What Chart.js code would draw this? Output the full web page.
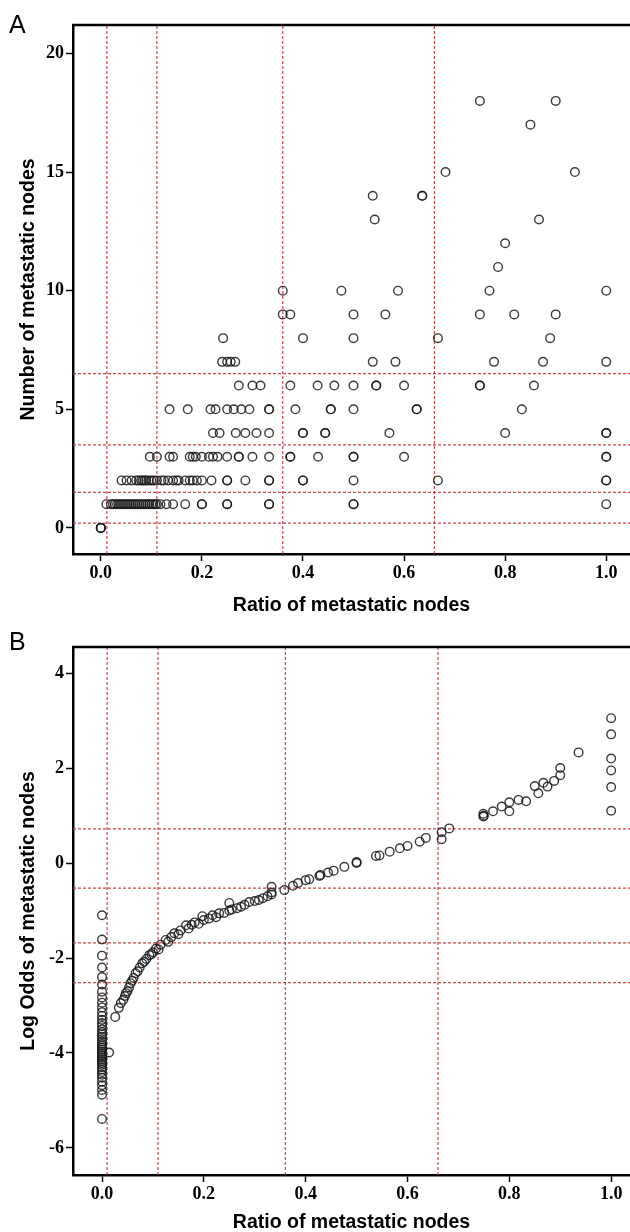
<!DOCTYPE html>
<html>
<head>
<meta charset="utf-8">
<script src="https://cdn.jsdelivr.net/npm/chart.js@4.4.1/dist/chart.umd.min.js"></script>
<style>
    body { margin: 0; background: #fff; width: 630px; height: 1232px; overflow: hidden; position: relative; }
    canvas { position: absolute; left: 0; }
    .tag { position: absolute; font-family: "Liberation Sans", Arial, sans-serif; font-size: 25px; line-height: 25px; color: #000; z-index: 2; }
</style>
</head>
<body>
<canvas id="chartA" width="630" height="615" style="top:0"></canvas>
<canvas id="chartB" width="630" height="617" style="top:615px"></canvas>
<div class="tag" style="left:9px;top:12px">A</div>
<div class="tag" style="left:9px;top:629px">B</div>
<script>
// tick labels
var ratioTicks = [0, 0.2, 0.4, 0.6, 0.8, 1.0];
var countTicks = [0, 5, 10, 15, 20];
var oddsTicks = [-6, -4, -2, 0, 2, 4];

// red dotted cut-off lines
var ratioCutsA = [0.012, 0.111, 0.36, 0.66];
var countCuts = [0.2, 1.5, 3.5, 6.5];
var ratioCutsB = [0.01, 0.11, 0.36, 0.66];
var oddsCuts = [0.72, -0.53, -1.68, -2.52];

// panel A: ratio values for each node count
var countLevels = [0, 1, 2, 3, 4, 5, 6, 7, 8, 9, 10, 11, 12, 13, 14, 15, 17, 18];
var ratiosByCount = [
    [0, 0, 0],
    [0.011, 0.02, 0.024, 0.028, 0.032, 0.036, 0.04, 0.044, 0.048, 0.052, 0.056, 0.06, 0.064, 0.068, 0.072, 0.076,
     0.08, 0.084, 0.088, 0.092, 0.096, 0.1, 0.104, 0.108, 0.111, 0.118, 0.13, 0.143, 0.167, 0.2, 0.2, 0.25, 0.25,
     0.333, 0.333, 0.5, 0.5, 1.0],
    [0.041, 0.051, 0.061, 0.07, 0.075, 0.08, 0.083, 0.087, 0.09, 0.095, 0.1, 0.105, 0.111, 0.12, 0.125, 0.133,
     0.143, 0.15, 0.154, 0.167, 0.176, 0.182, 0.19, 0.2, 0.219, 0.25, 0.25, 0.286, 0.333, 0.333, 0.4, 0.4, 0.5,
     0.667, 1.0, 1.0],
    [0.097, 0.111, 0.136, 0.143, 0.176, 0.182, 0.188, 0.2, 0.214, 0.222, 0.231, 0.25, 0.273, 0.273, 0.3, 0.333,
     0.375, 0.375, 0.43, 0.5, 0.5, 0.6, 1.0, 1.0],
    [0.222, 0.235, 0.267, 0.286, 0.308, 0.333, 0.4, 0.4, 0.444, 0.444, 0.571, 0.8, 1.0, 1.0],
    [0.136, 0.172, 0.217, 0.227, 0.25, 0.263, 0.278, 0.294, 0.333, 0.333, 0.385, 0.455, 0.455, 0.5, 0.625, 0.625, 0.833],
    [0.273, 0.3, 0.316, 0.375, 0.429, 0.462, 0.5, 0.545, 0.545, 0.6, 0.75, 0.75, 0.857],
    [0.24, 0.25, 0.257, 0.266, 0.538, 0.583, 0.778, 0.875, 1.0],
    [0.242, 0.4, 0.5, 0.667, 0.889],
    [0.36, 0.375, 0.5, 0.563, 0.75, 0.818, 0.9],
    [0.36, 0.476, 0.588, 0.769, 1.0],
    [0.786],
    [0.8],
    [0.542, 0.867],
    [0.538, 0.636, 0.636],
    [0.682, 0.938],
    [0.85],
    [0.75, 0.9]
];

// panel B: log odds of patients with ratio 0, then the rest as [ratio, log odds]
var zeroRatioOdds = [-1.1, -1.61, -1.95, -2.2, -2.4, -2.56, -2.71, -2.83, -2.94, -3.04, -3.14, -3.22, -3.3, -3.37,
    -3.43, -3.5, -3.56, -3.61, -3.66, -3.71, -3.76, -3.81, -3.85, -3.89, -3.93, -3.97, -4.01, -4.05, -4.09, -4.13,
    -4.17, -4.21, -4.25, -4.3, -4.35, -4.4, -4.46, -4.52, -4.6, -4.68, -4.78, -4.88, -5.39];
var curveB = [
    [0.014, -3.99], [0.026, -3.24], [0.033, -3.05], [0.037, -2.95], [0.042, -2.88], [0.045, -2.8], [0.047, -2.74],
    [0.05, -2.7], [0.053, -2.62], [0.056, -2.53], [0.059, -2.48], [0.062, -2.42], [0.066, -2.32], [0.07, -2.28],
    [0.074, -2.2], [0.079, -2.11], [0.083, -2.08], [0.087, -2.02], [0.093, -1.94], [0.097, -1.92], [0.1, -1.88],
    [0.106, -1.8], [0.111, -1.82], [0.115, -1.72], [0.125, -1.62], [0.13, -1.66], [0.136, -1.56], [0.142, -1.48],
    [0.15, -1.5], [0.154, -1.42], [0.165, -1.31], [0.17, -1.38], [0.176, -1.3], [0.182, -1.25], [0.19, -1.28],
    [0.197, -1.12], [0.2, -1.2], [0.21, -1.17], [0.217, -1.1], [0.224, -1.14], [0.23, -1.06], [0.24, -1.05],
    [0.25, -0.84], [0.25, -1.0], [0.255, -0.98], [0.265, -0.95], [0.273, -0.92], [0.28, -0.88], [0.289, -0.82],
    [0.3, -0.8], [0.308, -0.78], [0.316, -0.74], [0.325, -0.7], [0.333, -0.5], [0.333, -0.62], [0.333, -0.66],
    [0.358, -0.57], [0.375, -0.48], [0.385, -0.42], [0.4, -0.36], [0.407, -0.34], [0.427, -0.27], [0.429, -0.25],
    [0.444, -0.2], [0.455, -0.16], [0.476, -0.08], [0.5, 0.0], [0.5, 0.02], [0.538, 0.15], [0.545, 0.16],
    [0.565, 0.24], [0.585, 0.31], [0.6, 0.36], [0.624, 0.45], [0.636, 0.53], [0.667, 0.5], [0.667, 0.65],
    [0.682, 0.73], [0.749, 1.04], [0.749, 0.98], [0.75, 1.0], [0.768, 1.09], [0.785, 1.19], [0.8, 1.28],
    [0.8, 1.09], [0.818, 1.33], [0.833, 1.3], [0.85, 1.62], [0.857, 1.47], [0.867, 1.69], [0.875, 1.61],
    [0.888, 1.73], [0.9, 1.85], [0.9, 2.0], [0.936, 2.33], [1.0, 3.05], [1.0, 2.71], [1.0, 2.2], [1.0, 1.95],
    [1.0, 1.6], [1.0, 1.1]
];

var tickFont = { family: '"Liberation Serif", "Times New Roman", serif', size: 18, weight: 'bold' };
var titleFont = { family: '"Liberation Sans", Arial, sans-serif', size: 19.5, weight: 'bold', lineHeight: 1 };
var cutColor = 'rgba(200,50,50,0.9)';

var pointsA = [];
countLevels.forEach(function (c, i) {
    ratiosByCount[i].forEach(function (r) { pointsA.push({ x: r, y: c }); });
});
var pointsB = zeroRatioOdds.map(function (v) { return { x: 0, y: v }; })
    .concat(curveB.map(function (p) { return { x: p[0], y: p[1] }; }));

var frameTop = {
    id: 'frameTop',
    afterDraw: function (chart) {
        var a = chart.chartArea, ctx = chart.ctx;
        ctx.save();
        ctx.strokeStyle = '#000';
        ctx.lineWidth = 2.5;
        ctx.beginPath();
        ctx.moveTo(a.left - 1, a.top);
        ctx.lineTo(chart.width, a.top);
        ctx.stroke();
        ctx.restore();
    }
};

function cutLine(data) {
    return {
        type: 'scatter', data: data, showLine: true, borderColor: cutColor, borderWidth: 1.2,
        borderDash: [3, 2], pointRadius: 0, fill: false
    };
}

function axisTicks(list) {
    return function (s) { s.ticks = list.map(function (v) { return { value: v }; }); };
}

function draw(id, o) {
    var sets = [{
        data: o.points, pointRadius: 4.3, pointBorderWidth: 1.4,
        pointBorderColor: 'rgba(25,25,25,0.85)', pointBackgroundColor: 'rgba(0,0,0,0)'
    }];
    o.xCuts.forEach(function (c) { sets.push(cutLine([{ x: c, y: o.yRange[0] }, { x: c, y: o.yRange[1] }])); });
    o.yCuts.forEach(function (c) { sets.push(cutLine([{ x: o.xRange[0], y: c }, { x: o.xRange[1], y: c }])); });

    new Chart(document.getElementById(id), {
        type: 'scatter',
        data: { datasets: sets },
        plugins: [frameTop],
        options: {
            responsive: false,
            animation: false,
            events: [],
            layout: { autoPadding: false, padding: { top: o.top, left: 0, right: 0, bottom: 0 } },
            plugins: { legend: { display: false }, tooltip: { enabled: false } },
            scales: {
                x: {
                    type: 'linear', min: o.xRange[0], max: o.xRange[1],
                    afterBuildTicks: axisTicks(ratioTicks),
                    afterFit: function (s) { s.height = o.xAxisH; s.paddingRight = 0; s.paddingLeft = 0; },
                    ticks: { color: '#000', font: tickFont, padding: 2, callback: function (v) { return v.toFixed(1); } },
                    grid: { drawOnChartArea: false, drawTicks: true, tickLength: 7, tickWidth: 1.5, color: '#000' },
                    border: { color: '#000', width: 2.5 },
                    title: { display: true, text: 'Ratio of metastatic nodes', color: '#000', font: titleFont, padding: { top: 0, bottom: 0 } }
                },
                y: {
                    type: 'linear', min: o.yRange[0], max: o.yRange[1],
                    afterBuildTicks: axisTicks(o.yTicks),
                    afterFit: function (s) { s.width = 73; s.paddingTop = 0; s.paddingBottom = 0; },
                    ticks: { color: '#000', font: tickFont, padding: 2 },
                    grid: { drawOnChartArea: false, drawTicks: true, tickLength: 7, tickWidth: 1.5, color: '#000' },
                    border: { color: '#000', width: 2.5 },
                    title: { display: true, text: o.yTitle, color: '#000', font: titleFont, padding: { top: 19, bottom: 0 } }
                }
            }
        }
    });
}

draw('chartA', {
    points: pointsA, xRange: [-0.055, 1.047], yRange: [-1.1, 21.2], yTicks: countTicks,
    xCuts: ratioCutsA, yCuts: countCuts, yTitle: 'Number of metastatic nodes', top: 25, xAxisH: 61
});
draw('chartB', {
    points: pointsB, xRange: [-0.057, 1.037], yRange: [-6.57, 4.55], yTicks: oddsTicks,
    xCuts: ratioCutsB, yCuts: oddsCuts, yTitle: 'Log Odds of metastatic nodes', top: 32, xAxisH: 57
});
</script>
</body>
</html>
